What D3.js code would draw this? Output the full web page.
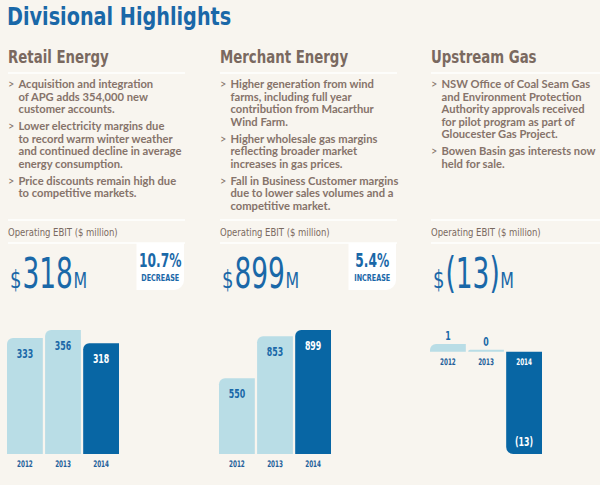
<!DOCTYPE html>
<html><head><meta charset="utf-8">
<script src="https://cdn.jsdelivr.net/npm/d3@7"></script>
<style>
html,body{margin:0;padding:0;background:#f8f5ef;}
svg{display:block;}
</style></head><body>
<svg id="c" width="600" height="485"></svg>
<script>
// ---------- data ----------
const title = "Divisional Highlights";
const divisions = ["Retail Energy", "Merchant Energy", "Upstream Gas"];
const years = ["2012", "2013", "2014"];
const retailEbit = [333, 356, 318];
const merchantEbit = [550, 853, 899];
const upstreamEbit = [1, 0, -13];
const ebitLabel = "Operating EBIT ($ million)";
const changePct = ["10.7%", "5.4%", null];
const changeDir = ["DECREASE", "INCREASE", null];
const retailBullets = [
  ["Acquisition and integration", "of APG adds 354,000 new", "customer accounts."],
  ["Lower electricity margins due", "to record warm winter weather", "and continued decline in average", "energy consumption."],
  ["Price discounts remain high due", "to competitive markets."]
];
const merchantBullets = [
  ["Higher generation from wind", "farms, including full year", "contribution from Macarthur", "Wind Farm."],
  ["Higher wholesale gas margins", "reflecting broader market", "increases in gas prices."],
  ["Fall in Business Customer margins", "due to lower sales volumes and a", "competitive market."]
];
const upstreamBullets = [
  ["NSW Office of Coal Seam Gas", "and Environment Protection", "Authority approvals received", "for pilot program as part of", "Gloucester Gas Project."],
  ["Bowen Basin gas interests now", "held for sale."]
];

// ---------- style ----------
const C = {bg:"#f8f5ef", blue:"#1a68a8", head:"#7a6960", text:"#86736a",
           light:"#b9dde6", dark:"#0866a4", year:"#23609a", line:"#ffffff"};
const condensed = "'DejaVu Sans Condensed','Liberation Sans Narrow',sans-serif";
const bodyFont = "Lato,'Open Sans',sans-serif";

const svg = d3.select("#c");
svg.append("rect").attr("width", 600).attr("height", 485).attr("fill", C.bg);

// text helper: horizontally scaled text anchored at (x, y)
function T(parent, x, y, str, o) {
  const t = parent.append("text")
    .attr("transform", `translate(${x},${y}) scale(${o.sx || 1},1)`)
    .attr("font-family", o.family || condensed)
    .attr("font-weight", o.weight || 400)
    .attr("font-size", o.size)
    .attr("fill", o.fill)
    .attr("text-anchor", o.anchor || "start")
    .text(str);
  if (o.ls) t.attr("letter-spacing", o.ls);
  return t;
}

T(svg, 7, 25, title, {size: 25, weight: 700, fill: C.blue, sx: 0.855});

const cols = [8, 220, 431];
const seriesList = [retailEbit, merchantEbit, upstreamEbit];
const bulletsList = [retailBullets, merchantBullets, upstreamBullets];
const fmt = v => v < 0 ? "(" + (-v) + ")" : String(v);

function hline(g, x1, x2, y) {
  g.append("line").attr("x1", x1).attr("x2", x2).attr("y1", y).attr("y2", y)
    .attr("stroke", C.line).attr("stroke-width", 1.5);
}

function barPath(x, w, y1, y2, r, neg) {
  const h = y2 - y1;
  r = Math.min(r, h, w / 2);
  if (!neg) {
    return `M${x},${y2}L${x},${y1 + r}A${r},${r} 0 0 1 ${x + r},${y1}L${x + w},${y1}L${x + w},${y2}Z`;
  }
  return `M${x},${y1}L${x + w},${y1}L${x + w},${y2}L${x + r},${y2}A${r},${r} 0 0 1 ${x},${y2 - r}Z`;
}

divisions.forEach((name, i) => {
  const x0 = cols[i];
  const g = svg.append("g");
  T(g, x0, 63, name, {size: 18.5, weight: 700, fill: C.head, sx: 0.8});
  hline(g, x0, x0 + 177, 73);

  let y = 88;
  bulletsList[i].forEach(lines => {
    T(g, x0, y, ">", {family: bodyFont, size: 11, fill: C.text});
    lines.forEach((ln, k) => {
      T(g, x0 + 10.5, y + k * 12.5, ln, {family: bodyFont, weight: 700, size: 11.2, fill: C.text});
    });
    y += lines.length * 12.5 + 4.5;
  });

  hline(g, x0, x0 + 177, 220);
  T(g, x0, 236, ebitLabel, {size: 10.5, fill: C.head, sx: 0.9});
  hline(g, x0, x0 + 177, 243);

  const series = seriesList[i];
  const cur = series[series.length - 1];
  // big figure: "$" + value + "M"
  let bx = x0 + 2;
  const parts = [["$", 25, 0.8], [fmt(cur), 42, 0.7], ["M", 22, 0.8]];
  parts.forEach(([s, sz, sx], k) => {
    const t = T(g, bx, 288, s, {size: sz, fill: C.blue, sx: sx});
    bx += t.node().getComputedTextLength() * sx + (k === 0 ? 1 : 0.5);
  });

  if (changePct[i]) {
    const rx = x0 + 128.5, rw = 47.5, ry = 243, rh = 47, r = 10;
    g.append("path")
      .attr("d", `M${rx},${ry}L${rx + rw},${ry}L${rx + rw},${ry + rh - r}A${r},${r} 0 0 1 ${rx + rw - r},${ry + rh}L${rx},${ry + rh}Z`)
      .attr("fill", "#ffffff");
    T(g, rx + rw / 2, 267, changePct[i], {size: 20, weight: 700, fill: C.blue, sx: 0.68, anchor: "middle"});
    T(g, rx + rw / 2, 280.5, changeDir[i], {size: 9, weight: 700, fill: C.blue, sx: 0.8, anchor: "middle"});
  }

  // bars
  const x = d3.scaleBand().domain(years).range([x0 - 1, x0 + 111]).paddingInner(0.06);
  const minV = Math.min(0, d3.min(series)), maxV = d3.max(series);
  let yS;
  if (minV < 0) yS = d3.scaleLinear().domain([minV, maxV]).range([454, 344]);
  else yS = d3.scaleLinear().domain([0, maxV]).range([454, 330]);
  const zero = yS(0);

  years.forEach((yr, j) => {
    const v = series[j];
    const isCur = j === years.length - 1;
    const neg = v < 0;
    let y1 = Math.min(yS(v), zero), y2 = Math.max(yS(v), zero);
    if (y2 - y1 < 2) y1 = y2 - 2;
    const bxj = x(yr), bwj = x.bandwidth();
    g.append("path").attr("d", barPath(bxj, bwj, y1, y2, neg ? 7 : 6, neg))
      .attr("fill", isCur ? C.dark : C.light);
    const cx = bxj + bwj / 2;
    let ly, lc;
    if (neg) { ly = y2 - 8; lc = "#ffffff"; }
    else if (y2 - y1 > 25) { ly = y1 + 20; lc = isCur ? "#ffffff" : C.blue; }
    else { ly = y1 - 4; lc = C.blue; }
    T(g, cx, ly, fmt(v), {size: 12.5, weight: 700, fill: lc, sx: 0.7, anchor: "middle"});
    const yearOnDark = neg && isCur;
    T(g, cx, zero + 13, yr, {size: 9, weight: 700, fill: yearOnDark ? "#ffffff" : C.year, sx: 0.7, anchor: "middle"});
  });
});
</script>
</body></html>
